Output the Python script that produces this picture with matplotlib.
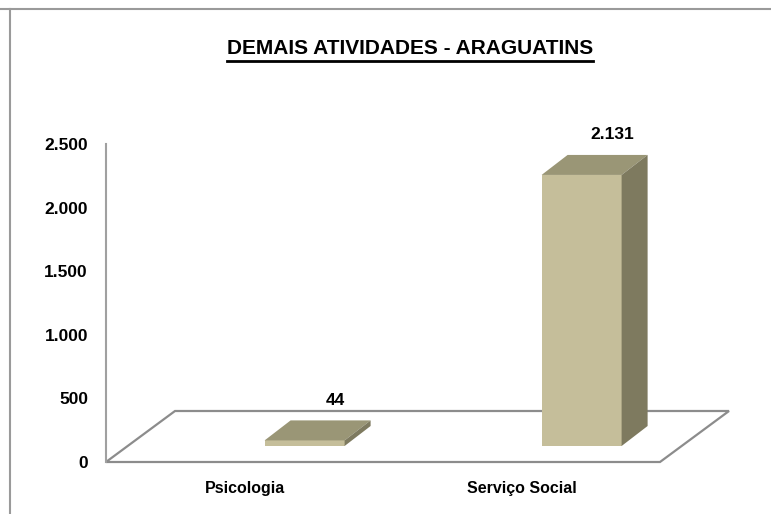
import numpy as np
import matplotlib
matplotlib.use('Agg')
import matplotlib.pyplot as plt
from matplotlib.patches import Polygon
from matplotlib.lines import Line2D
from matplotlib.ticker import FuncFormatter

# data
categories = ['Psicologia', 'Serviço Social']
values = [44, 2131]
value_labels = ['44', '2.131']
y_ticks = [0, 500, 1000, 1500, 2000, 2500]

title = 'DEMAIS ATIVIDADES - ARAGUATINS'

W, H = 771, 514
fonts = ['Liberation Sans', 'DejaVu Sans']

front_col = '#C5BE9A'
top_col = '#9A9676'
side_col = '#7E7A5F'
grid_col = '#8C8C8C'

fig = plt.figure(figsize=(W / 100, H / 100), dpi=100)
ax = fig.add_axes([106 / W, 52 / H, 554 / W, 318 / H])
ax.set_xlim(-0.5, 1.5)
ax.set_ylim(0, 2500)

# pixel -> data helpers (3d offsets)
px_x = 2.0 / 554
px_y = 2500.0 / 318

# floor
fdx, fdy = 69 * px_x, 51 * px_y
floor = Polygon([(-0.5, 0), (1.5, 0), (1.5 + fdx, fdy), (-0.5 + fdx, fdy)],
                closed=True, facecolor='white', edgecolor=grid_col, lw=1.6,
                clip_on=False, zorder=1)
ax.add_patch(floor)

# bars
shift = 0.217
half_w = 40 * px_x
ddx, ddy = 26 * px_x, 20 * px_y
base = 16 * px_y
for i, v in enumerate(values):
    xc = i + shift
    x0, x1 = xc - half_w, xc + half_w
    y0, y1 = base, base + v
    front = Polygon([(x0, y0), (x1, y0), (x1, y1), (x0, y1)], closed=True,
                    facecolor=front_col, edgecolor='none', clip_on=False, zorder=3)
    top = Polygon([(x0, y1), (x1, y1), (x1 + ddx, y1 + ddy), (x0 + ddx, y1 + ddy)],
                  closed=True, facecolor=top_col, edgecolor='none', clip_on=False, zorder=3)
    side = Polygon([(x1, y0), (x1 + ddx, y0 + ddy), (x1 + ddx, y1 + ddy), (x1, y1)],
                   closed=True, facecolor=side_col, edgecolor='none', clip_on=False, zorder=3)
    for p in (front, top, side):
        ax.add_patch(p)
    ax.text(xc + 31 * px_x, y1 + ddy + 20 * px_y, value_labels[i], ha='center', va='center',
            fontsize=12.5, fontweight='bold', family=fonts, color='black', zorder=4)

# axes styling
for s in ['top', 'right', 'bottom']:
    ax.spines[s].set_visible(False)
ax.spines['left'].set_color('#A0A0A0')
ax.spines['left'].set_linewidth(1.5)
ax.set_yticks(y_ticks)
ax.yaxis.set_major_formatter(FuncFormatter(lambda v, p: f'{int(v):,}'.replace(',', '.')))
ax.tick_params(axis='y', length=0, pad=13)
ax.set_xticks(range(len(categories)))
ax.set_xticklabels(categories)
ax.tick_params(axis='x', length=0, pad=14)
for lab in ax.get_yticklabels():
    lab.set_fontsize(12.5)
    lab.set_fontweight('bold')
    lab.set_family(fonts)
for lab in ax.get_xticklabels():
    lab.set_fontsize(11.5)
    lab.set_fontweight('bold')
    lab.set_family(fonts)
ax.patch.set_visible(False)

# outer frame lines
fig.add_artist(Line2D([0, 1], [1 - 9 / H, 1 - 9 / H], color='#9A9A9A', lw=1.5))
fig.add_artist(Line2D([10 / W, 10 / W], [0, 1 - 9 / H], color='#9A9A9A', lw=1.5))

# title with underline
t = fig.text(410 / W, 1 - 49 / H, title, ha='center', va='center',
             fontsize=15, fontweight='bold', family=fonts)
fig.canvas.draw()
bb = t.get_window_extent().transformed(fig.transFigure.inverted())
uy = 1 - 61 / H
fig.add_artist(Line2D([bb.x0, bb.x1], [uy, uy], color='black', lw=2))

fig.savefig('out.png', dpi=100)
